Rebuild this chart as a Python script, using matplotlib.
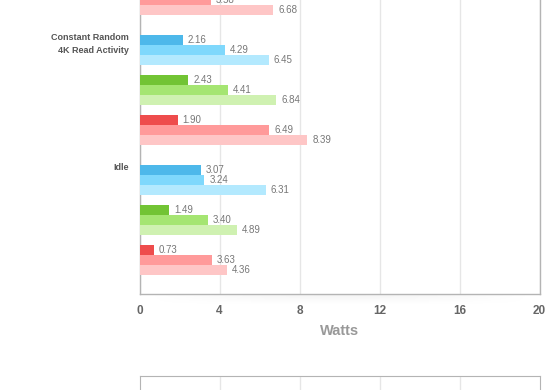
import numpy as np
import matplotlib
matplotlib.use("Agg")
import matplotlib.pyplot as plt

plt.rcParams['font.family'] = ['Liberation Sans', 'DejaVu Sans']

# groups shown (the first one is cut off at the top of the picture)
groups = ['', 'Constant Random\n4K Read Activity', 'Idle']
# values per group: [blue triplet, green triplet, red triplet], each dark/mid/light
values = [
    [[np.nan, np.nan, np.nan], [np.nan, np.nan, np.nan], [np.nan, 3.58, 6.68]],
    [[2.16, 4.29, 6.45], [2.43, 4.41, 6.84], [1.90, 6.49, 8.39]],
    [[3.07, 3.24, 6.31], [1.49, 3.40, 4.89], [0.73, 3.63, 4.36]],
]
colors = [
    ['#4db8ea', '#7fd8fc', '#b3e9fe'],
    ['#72c434', '#a5e572', '#cff1b1'],
    ['#ee4c4c', '#ff9a9a', '#fec6c6'],
]
xticks = [0, 4, 8, 12, 16, 20]

W, H = 560, 390
fig = plt.figure(figsize=(W / 100, H / 100), dpi=100)

# top chart (extends above the visible area)
ax_left, ax_w = 139.5 / W, 400 / W
ax = fig.add_axes([ax_left, (H - 294) / H, ax_w, (294 + 115) / H])

grid_c = '#e6e6e6'
for g, grp in enumerate(values):
    for t, trip in enumerate(grp):
        for k, v in enumerate(trip):
            y = g * 13 + t * 4 + k + 0.5
            if np.isnan(v):
                continue
            ax.barh(y, v, height=1.0, color=colors[t][k], zorder=3)
            ax.annotate(f'{v:.2f}', (v, y), xytext=(3.6, 0), textcoords='offset points',
                        va='center', ha='left', fontsize=7, color='#777777', zorder=4)
    if groups[g]:
        ax.text(-0.027, g * 13 - 0.15, groups[g], transform=ax.get_yaxis_transform(),
                ha='right', va='top', fontsize=6.5, fontweight='bold', color='#555555',
                linespacing=1.5)

ax.set_xlim(0, 20)
ax.set_ylim(38.9, -2.0)
ax.set_xticks(xticks)
ax.set_xticklabels([str(x) for x in xticks])
ax.set_yticks([])
ax.tick_params(axis='x', length=0, pad=8, labelsize=8.5, labelcolor='#666666')
for lab in ax.get_xticklabels():
    lab.set_fontweight('bold')
ax.grid(axis='x', color=grid_c, linewidth=1, zorder=0)
ax.set_xlabel('Watts', fontsize=10.5, fontweight='bold', color='#999999', labelpad=5)
for side in ['left', 'bottom', 'right']:
    ax.spines[side].set_color('#b4b4b4')
    ax.spines[side].set_linewidth(1)
ax.spines['top'].set_visible(False)

# soft shadow under the chart box
sh = fig.add_axes([150 / W, (H - 304) / H, 380 / W, 10 / H])
grad = np.linspace(0.10, 0.0, 20)[:, None] * np.sin(np.linspace(0, np.pi, 200))[None, :]
sh.imshow(grad, cmap='Greys', vmin=0, vmax=1, aspect='auto', interpolation='bilinear')
sh.set_axis_off()
sh.set_zorder(-1)

# next chart starting at the bottom of the picture
ax2 = fig.add_axes([ax_left, -0.5, ax_w, 0.5 + (H - 375.5) / H])
ax2.set_xlim(0, 20)
ax2.set_xticks(xticks[1:-1])
ax2.set_yticks([])
ax2.tick_params(axis='x', length=0, labelbottom=False)
ax2.grid(axis='x', color=grid_c, linewidth=1)
for side in ['left', 'top', 'right']:
    ax2.spines[side].set_color('#b4b4b4')

fig.savefig('out.png', dpi=100)
